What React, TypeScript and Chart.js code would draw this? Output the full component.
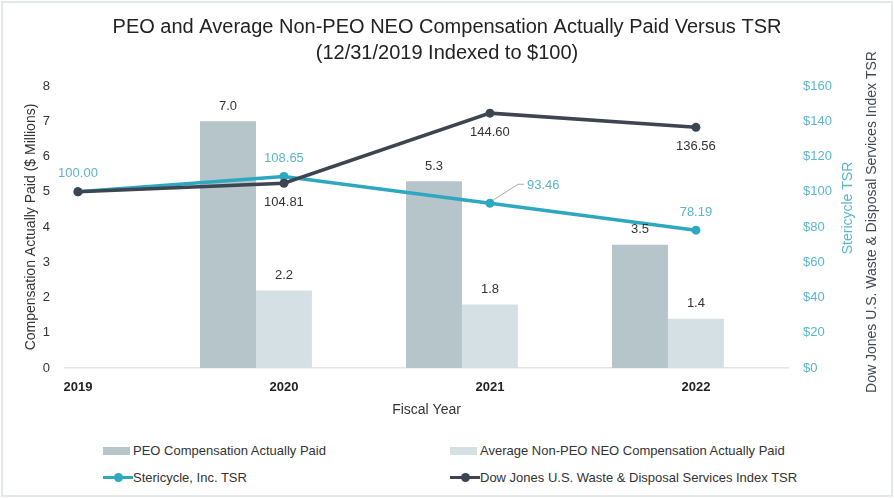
import React, { useEffect, useRef } from 'react';
import { Chart, registerables } from 'chart.js';

Chart.register(...registerables);

// ---- data ----
const years = [2019, 2020, 2021, 2022];
const peoCap = [null, 7.0, 5.3, 3.5];
const nonPeoCap = [null, 2.2, 1.8, 1.4];
const stericycleTsr = [100.0, 108.65, 93.46, 78.19];
const dowJonesTsr = [100.0, 104.81, 144.6, 136.56];
const spacer = [null, null, null, null];

const titleLines = [
  'PEO and Average Non-PEO NEO Compensation Actually Paid Versus TSR',
  '(12/31/2019 Indexed to $100)',
];
const seriesNames = [
  'PEO Compensation Actually Paid',
  'Average Non-PEO NEO Compensation Actually Paid',
  'Stericycle, Inc. TSR',
  'Dow Jones U.S. Waste & Disposal Services Index TSR',
];
const leftAxisTitle = 'Compensation Actually Paid ($ Millions)';
const rightAxisTitle = 'Stericycle TSR';
const rightAxisTitle2 = 'Dow Jones U.S. Waste & Disposal Services Index TSR';
const xAxisTitle = 'Fiscal Year';

// ---- styles ----
const FONT = "'Liberation Sans', Arial, Helvetica, sans-serif";
const C_PEO = '#b6c5ca';
const C_NONPEO = '#d5e0e5';
const C_SRCL = '#2ea7c1';
const C_SRCL_TEXT = '#5bb6cb';
const C_DJ = '#3d4550';
const C_TEXT = '#333333';

const labelPlugin = {
  id: 'valueLabels',
  afterDatasetsDraw(chart: any) {
    const ctx = chart.ctx;
    ctx.save();
    ctx.font = `13px ${FONT}`;
    ctx.textAlign = 'center';
    ctx.textBaseline = 'middle';
    // bars
    [0, 1].forEach((di) => {
      const meta = chart.getDatasetMeta(di);
      const data = chart.data.datasets[di].data;
      meta.data.forEach((el: any, i: number) => {
        const v = data[i];
        if (v == null) return;
        ctx.fillStyle = C_TEXT;
        ctx.fillText(Number(v).toFixed(1), el.x, el.y - 15);
      });
    });
    // Stericycle labels (above)
    {
      const meta = chart.getDatasetMeta(3);
      const data = chart.data.datasets[3].data;
      meta.data.forEach((el: any, i: number) => {
        const v = data[i];
        if (v == null) return;
        ctx.fillStyle = C_SRCL_TEXT;
        if (i === 2) {
          // callout with leader line
          ctx.strokeStyle = '#a9a9a9';
          ctx.lineWidth = 1;
          ctx.beginPath();
          ctx.moveTo(el.x + 3, el.y - 3);
          ctx.lineTo(el.x + 28, el.y - 19);
          ctx.lineTo(el.x + 34, el.y - 19);
          ctx.stroke();
          ctx.textAlign = 'left';
          ctx.fillText(Number(v).toFixed(2), el.x + 37, el.y - 18);
          ctx.textAlign = 'center';
        } else {
          ctx.fillText(Number(v).toFixed(2), el.x, el.y - 18);
        }
      });
    }
    // Dow Jones labels (below)
    {
      const meta = chart.getDatasetMeta(4);
      const data = chart.data.datasets[4].data;
      meta.data.forEach((el: any, i: number) => {
        const v = data[i];
        if (v == null || i === 0) return;
        ctx.fillStyle = C_TEXT;
        ctx.fillText(Number(v).toFixed(2), el.x, el.y + 19);
      });
    }
    ctx.restore();
  },
};

const rightTitlesPlugin = {
  id: 'rightTitles',
  afterDraw(chart: any) {
    const ctx = chart.ctx;
    const area = chart.chartArea;
    const cy = (area.top + area.bottom) / 2;
    ctx.save();
    ctx.font = `14px ${FONT}`;
    ctx.textAlign = 'center';
    ctx.textBaseline = 'middle';
    ctx.translate(area.right + 60, cy - 19);
    ctx.rotate(-Math.PI / 2);
    ctx.fillStyle = C_SRCL_TEXT;
    ctx.fillText(rightAxisTitle, 0, 0);
    ctx.restore();
    ctx.save();
    ctx.font = `14px ${FONT}`;
    ctx.textAlign = 'center';
    ctx.textBaseline = 'middle';
    ctx.translate(area.right + 84, cy - 5);
    ctx.rotate(-Math.PI / 2);
    ctx.fillStyle = '#444a52';
    ctx.fillText(rightAxisTitle2, 0, 0);
    ctx.restore();
  },
};

function LegendIcon({ kind, color }: { kind: 'bar' | 'line'; color: string }) {
  if (kind === 'bar') {
    return <span style={{ display: 'inline-block', width: 27, height: 8, background: color, marginRight: 3 }} />;
  }
  return (
    <span style={{ position: 'relative', display: 'inline-block', width: 30, height: 10 }}>
      <span style={{ position: 'absolute', left: 0, top: 3.5, width: 30, height: 3, background: color }} />
      <span style={{ position: 'absolute', left: 10.5, top: 0.5, width: 9, height: 9, borderRadius: '50%', background: color }} />
    </span>
  );
}

export default function App() {
  const ref = useRef<HTMLCanvasElement | null>(null);

  useEffect(() => {
    if (!ref.current) return;
    const chart = new Chart(ref.current, {
      type: 'bar',
      data: {
        labels: years,
        datasets: [
          { type: 'bar', label: seriesNames[0], data: peoCap, backgroundColor: C_PEO, yAxisID: 'y', order: 3 },
          { type: 'bar', label: seriesNames[1], data: nonPeoCap, backgroundColor: C_NONPEO, yAxisID: 'y', order: 3 },
          { type: 'bar', label: '', data: spacer, backgroundColor: 'transparent', yAxisID: 'y', order: 3 },
          {
            type: 'line', label: seriesNames[2], data: stericycleTsr, borderColor: C_SRCL, backgroundColor: C_SRCL,
            borderWidth: 3.5, pointRadius: 4.5, pointBackgroundColor: C_SRCL, pointBorderWidth: 0, yAxisID: 'y1', order: 1,
          },
          {
            type: 'line', label: seriesNames[3], data: dowJonesTsr, borderColor: C_DJ, backgroundColor: C_DJ,
            borderWidth: 3.5, pointRadius: 4.5, pointBackgroundColor: C_DJ, pointBorderWidth: 0, yAxisID: 'y1', order: 0,
          },
        ] as any,
      },
      options: {
        animation: false,
        responsive: false,
        devicePixelRatio: 1,
        layout: { padding: { left: 0, right: 0, top: 0, bottom: 0 } },
        datasets: { bar: { categoryPercentage: 0.815, barPercentage: 1 } },
        plugins: {
          legend: { display: false },
          tooltip: { enabled: false },
          title: {
            display: true,
            text: titleLines,
            color: '#222222',
            font: { family: FONT, size: 20, weight: 'normal', lineHeight: 1.3 },
            padding: { top: 14, bottom: 20 },
          },
        },
        scales: {
          x: {
            type: 'linear',
            offset: false,
            min: 2018.937,
            max: 2022.447,
            afterBuildTicks: (s: any) => { s.ticks = years.map((v) => ({ value: v })); },
            afterFit: (s: any) => { s.height = 57; },
            grid: { display: false, drawTicks: false, offset: false },
            border: { display: true, color: '#dfe5e8', width: 1.5 },
            ticks: {
              padding: 12,
              color: '#222222',
              font: { family: FONT, size: 13, weight: 'bold' },
              callback: (v: any) => String(v),
              autoSkip: false,
              maxRotation: 0,
            },
            title: {
              display: true, text: xAxisTitle, color: C_TEXT,
              font: { family: FONT, size: 14 }, padding: { top: 0, bottom: 6 },
            },
          },
          y: {
            position: 'left',
            min: 0, max: 8,
            afterFit: (s: any) => { s.width = 65; },
            grid: { display: false, drawTicks: false },
            border: { display: false },
            ticks: { stepSize: 1, padding: 15, color: C_TEXT, font: { family: FONT, size: 13 } },
            title: {
              display: true, text: leftAxisTitle, color: C_TEXT,
              font: { family: FONT, size: 14 }, padding: { top: 23, bottom: 0 },
            },
          },
          y1: {
            position: 'right',
            min: 0, max: 160,
            afterFit: (s: any) => { s.width = 106; },
            grid: { display: false, drawTicks: false },
            border: { display: false },
            ticks: {
              stepSize: 20, padding: 15, color: C_SRCL_TEXT, font: { family: FONT, size: 13 },
              callback: (v: any) => '$' + v,
            },
          },
        },
      } as any,
      plugins: [labelPlugin, rightTitlesPlugin],
    });
    return () => chart.destroy();
  }, []);

  const legendItems = [
    { kind: 'bar' as const, color: C_PEO, text: seriesNames[0] },
    { kind: 'bar' as const, color: C_NONPEO, text: seriesNames[1] },
    { kind: 'line' as const, color: C_SRCL, text: seriesNames[2] },
    { kind: 'line' as const, color: C_DJ, text: seriesNames[3] },
  ];

  return (
    <div style={{ position: 'absolute', left: 0, top: 0, width: 894, height: 498, background: '#ffffff', fontFamily: FONT }}>
      <canvas ref={ref} width={894} height={425} style={{ display: 'block', width: 894, height: 425 }} />
      <div
        style={{
          position: 'absolute', left: 103, top: 437, display: 'grid',
          gridTemplateColumns: '347px auto', gridAutoRows: '27px', alignItems: 'center',
          fontSize: 13, color: C_TEXT, whiteSpace: 'nowrap',
        }}
      >
        {legendItems.map((it, i) => (
          <div key={i} style={{ display: 'flex', alignItems: 'center' }}>
            <LegendIcon kind={it.kind} color={it.color} />
            <span>{it.text}</span>
          </div>
        ))}
      </div>
      <div
        style={{
          position: 'absolute', left: 1, top: 1, width: 892, height: 496, boxSizing: 'border-box',
          border: '2px solid #e3e9eb', pointerEvents: 'none',
        }}
      />
    </div>
  );
}
